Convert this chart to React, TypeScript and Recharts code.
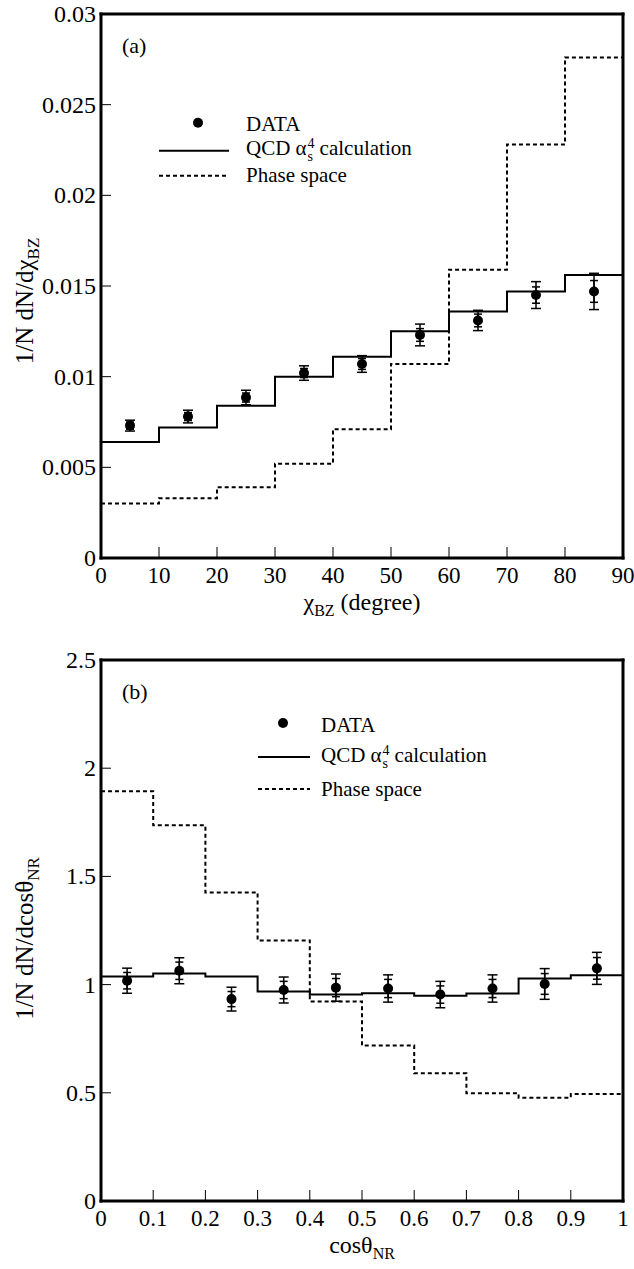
import {
  ComposedChart,
  ErrorBar,
  Legend,
  Line,
  ReferenceLine,
  Scatter,
  XAxis,
  YAxis,
} from "recharts";

const FONT = '"Liberation Serif", "Times New Roman", serif';
const serif = { fontFamily: FONT };

// (a) chi_BZ distribution
const chiEdges = [0, 10, 20, 30, 40, 50, 60, 70, 80, 90];
const chiQcd = [0.0064, 0.0072, 0.0084, 0.01, 0.0111, 0.0125, 0.0136, 0.0147, 0.0156];
const chiPhase = [0.003, 0.0033, 0.0039, 0.0052, 0.0071, 0.0107, 0.0159, 0.0228, 0.0276];
const chiCenters = [5, 15, 25, 35, 45, 55, 65, 75, 85];
const chiData = [0.0073, 0.0078, 0.00885, 0.0102, 0.0107, 0.0123, 0.0131, 0.0145, 0.0147];
const chiErrTot = [0.0003, 0.00035, 0.0004, 0.0004, 0.00046, 0.0006, 0.00056, 0.00074, 0.001];
const chiErrStat = [0.0002, 0.00022, 0.00025, 0.00025, 0.0003, 0.00035, 0.00035, 0.00045, 0.0006];
const chiTicksX = [0, 10, 20, 30, 40, 50, 60, 70, 80, 90];
const chiTicksY = [0, 0.005, 0.01, 0.015, 0.02, 0.025, 0.03];

// (b) cos theta_NR distribution
const cosEdges = [0, 0.1, 0.2, 0.3, 0.4, 0.5, 0.6, 0.7, 0.8, 0.9, 1];
const cosQcd = [1.037, 1.051, 1.037, 0.968, 0.954, 0.96, 0.949, 0.959, 1.028, 1.043];
const cosPhase = [1.894, 1.736, 1.426, 1.204, 0.922, 0.719, 0.59, 0.498, 0.477, 0.494];
const cosCenters = [0.05, 0.15, 0.25, 0.35, 0.45, 0.55, 0.65, 0.75, 0.85, 0.95];
const cosData = [1.018, 1.064, 0.933, 0.975, 0.986, 0.982, 0.954, 0.982, 1.003, 1.075];
const cosErrTot = [0.058, 0.06, 0.055, 0.06, 0.063, 0.063, 0.061, 0.063, 0.071, 0.074];
const cosErrStat = [0.038, 0.04, 0.035, 0.04, 0.042, 0.042, 0.04, 0.042, 0.048, 0.05];
const cosTicksX = [0, 0.1, 0.2, 0.3, 0.4, 0.5, 0.6, 0.7, 0.8, 0.9, 1];
const cosTicksY = [0, 0.5, 1, 1.5, 2, 2.5];

function stepRows(edges: number[], qcd: number[], phase: number[]) {
  return edges.map((x, i) => {
    const k = Math.min(i, qcd.length - 1);
    return { x, qcd: qcd[k], ps: phase[k] };
  });
}

function pointRows(xs: number[], ys: number[], tot: number[], stat: number[]) {
  return xs.map((x, i) => ({ x, y: ys[i], tot: tot[i], stat: stat[i] }));
}

const axisLineStyle = { stroke: "#000", strokeWidth: 3, strokeLinecap: "square" as const };

// eslint-disable-next-line @typescript-eslint/no-explicit-any
function XTick({ x, y, payload }: any) {
  return (
    <g>
      <line x1={x} y1={y} x2={x} y2={y - 11} stroke="#000" strokeWidth={1} />
      <text x={x} y={y + 25} textAnchor="middle" style={serif} fontSize={23} fill="#000">
        {String(payload.value)}
      </text>
    </g>
  );
}

// eslint-disable-next-line @typescript-eslint/no-explicit-any
function YTick({ x, y, payload }: any) {
  return (
    <g>
      <line x1={x} y1={y} x2={x + 10} y2={y} stroke="#000" strokeWidth={1} />
      <text x={x - 5} y={y} dy={8} textAnchor="end" style={serif} fontSize={24} fill="#000">
        {String(payload.value)}
      </text>
    </g>
  );
}

// eslint-disable-next-line @typescript-eslint/no-explicit-any
function DataDot(props: any) {
  if (props.cx == null || props.cy == null) return null;
  return <circle cx={props.cx} cy={props.cy} r={5} fill="#000" />;
}

function LegendRow({
  height,
  iconW,
  gap,
  icon,
  children,
}: {
  height: number;
  iconW: number;
  gap: number;
  icon: React.ReactNode;
  children: React.ReactNode;
}) {
  return (
    <div style={{ display: "flex", alignItems: "center", height }}>
      <svg width={iconW} height={height} style={{ display: "block" }}>
        {icon}
      </svg>
      <span style={{ marginLeft: gap, lineHeight: 1, whiteSpace: "nowrap" }}>{children}</span>
    </div>
  );
}

function PanelLegend({ rowH, iconW, gap, dotX }: { rowH: number; iconW: number; gap: number; dotX: number }) {
  const mid = rowH / 2;
  return (
    <div style={{ fontFamily: FONT, fontSize: 21, color: "#000" }}>
      <LegendRow height={rowH} iconW={iconW} gap={gap} icon={<circle cx={dotX} cy={mid - 2} r={5} fill="#000" />}>
        DATA
      </LegendRow>
      <LegendRow
        height={rowH}
        iconW={iconW}
        gap={gap}
        icon={<line x1={0} y1={mid} x2={iconW} y2={mid} stroke="#000" strokeWidth={2} />}
      >
        QCD α
        <span
          style={{
            display: "inline-flex",
            flexDirection: "column",
            fontSize: 14,
            lineHeight: "13px",
            verticalAlign: "middle",
            margin: "0 5px 0 1px",
          }}
        >
          <span>4</span>
          <span>s</span>
        </span>
        calculation
      </LegendRow>
      <LegendRow
        height={rowH}
        iconW={iconW}
        gap={gap}
        icon={
          <line x1={0} y1={mid} x2={iconW} y2={mid} stroke="#000" strokeWidth={2} strokeDasharray="4 3" />
        }
      >
        Phase space
      </LegendRow>
    </div>
  );
}

type PanelProps = {
  height: number;
  top: number;
  xAxisH: number;
  xDomain: [number, number];
  yDomain: [number, number];
  xTicks: number[];
  yTicks: number[];
  steps: ReturnType<typeof stepRows>;
  points: ReturnType<typeof pointRows>;
  tag: string;
  yTitle: { main: string; sub: string; shift: number };
  xTitle: { main: string; sub: string; rest: string };
  legend: { left: number; top: number; rowH: number; iconW: number; gap: number; dotX: number };
};

function Panel(p: PanelProps) {
  return (
    <ComposedChart
      width={634}
      height={p.height}
      margin={{ top: p.top, right: 11, bottom: 0, left: 0 }}
      style={{ fontFamily: FONT }}
    >
      <XAxis
        type="number"
        dataKey="x"
        domain={p.xDomain}
        ticks={p.xTicks}
        interval={0}
        height={p.xAxisH}
        tickSize={0}
        tickMargin={0}
        tickLine={false}
        axisLine={axisLineStyle}
        tick={<XTick />}
        allowDataOverflow
        label={{
          // eslint-disable-next-line @typescript-eslint/no-explicit-any
          content: (lp: any) => {
            const vb = lp.viewBox;
            return (
              <text
                x={vb.x + vb.width / 2}
                y={vb.y + 52}
                textAnchor="middle"
                style={serif}
                fontSize={24}
                fill="#000"
              >
                {p.xTitle.main}
                <tspan dy={6} fontSize={16}>
                  {p.xTitle.sub}
                </tspan>
                <tspan dy={-6}>{p.xTitle.rest}</tspan>
              </text>
            );
          },
        }}
      />
      <YAxis
        type="number"
        domain={p.yDomain}
        ticks={p.yTicks}
        interval={0}
        width={101}
        tickSize={0}
        tickMargin={0}
        tickLine={false}
        axisLine={axisLineStyle}
        tick={<YTick />}
        allowDataOverflow
        label={{
          // eslint-disable-next-line @typescript-eslint/no-explicit-any
          content: (lp: any) => {
            const vb = lp.viewBox;
            const cx = 33;
            const cy = vb.y + vb.height / 2 + p.yTitle.shift;
            return (
              <text
                x={cx}
                y={cy}
                transform={`rotate(-90, ${cx}, ${cy})`}
                textAnchor="middle"
                style={serif}
                fontSize={25}
                fill="#000"
              >
                {p.yTitle.main}
                <tspan dy={6} fontSize={17}>
                  {p.yTitle.sub}
                </tspan>
              </text>
            );
          },
        }}
      />
      <ReferenceLine
        y={p.yDomain[1]}
        stroke="#000"
        strokeWidth={3}
        strokeLinecap="square"
        label={{
          // eslint-disable-next-line @typescript-eslint/no-explicit-any
          content: (lp: any) => (
            <text x={lp.viewBox.x + 21} y={lp.viewBox.y + 39} style={serif} fontSize={22} fill="#000">
              {p.tag}
            </text>
          ),
        }}
      />
      <ReferenceLine x={p.xDomain[1]} stroke="#000" strokeWidth={3} strokeLinecap="square" />
      <Line
        data={p.steps}
        dataKey="ps"
        type="stepAfter"
        stroke="#000"
        strokeWidth={2}
        strokeDasharray="4 3"
        dot={false}
        activeDot={false}
        isAnimationActive={false}
      />
      <Line
        data={p.steps}
        dataKey="qcd"
        type="stepAfter"
        stroke="#000"
        strokeWidth={2}
        dot={false}
        activeDot={false}
        isAnimationActive={false}
      />
      <Scatter data={p.points} dataKey="y" shape={DataDot} isAnimationActive={false}>
        <ErrorBar dataKey="tot" direction="y" width={5} stroke="#000" strokeWidth={1.5} />
        <ErrorBar dataKey="stat" direction="y" width={4} stroke="#000" strokeWidth={1.5} />
      </Scatter>
      <Legend
        layout="vertical"
        align="center"
        verticalAlign="middle"
        wrapperStyle={{ left: p.legend.left, top: p.legend.top, width: "auto", height: "auto" }}
        content={() => (
          <PanelLegend rowH={p.legend.rowH} iconW={p.legend.iconW} gap={p.legend.gap} dotX={p.legend.dotX} />
        )}
      />
    </ComposedChart>
  );
}

export default function App() {
  return (
    <div style={{ position: "absolute", left: 0, top: 0, width: 634, height: 1269, background: "#fff" }}>
      <Panel
        height={640}
        top={14}
        xAxisH={82}
        xDomain={[0, 90]}
        yDomain={[0, 0.03]}
        xTicks={chiTicksX}
        yTicks={chiTicksY}
        steps={stepRows(chiEdges, chiQcd, chiPhase)}
        points={pointRows(chiCenters, chiData, chiErrTot, chiErrStat)}
        tag="(a)"
        yTitle={{ main: "1/N dN/dχ", sub: "BZ", shift: 15 }}
        xTitle={{ main: "χ", sub: "BZ", rest: " (degree)" }}
        legend={{ left: 159, top: 112, rowH: 25.5, iconW: 70, gap: 17, dotX: 39 }}
      />
      <Panel
        height={629}
        top={20}
        xAxisH={68}
        xDomain={[0, 1]}
        yDomain={[0, 2.5]}
        xTicks={cosTicksX}
        yTicks={cosTicksY}
        steps={stepRows(cosEdges, cosQcd, cosPhase)}
        points={pointRows(cosCenters, cosData, cosErrTot, cosErrStat)}
        tag="(b)"
        yTitle={{ main: "1/N dN/dcosθ", sub: "NR", shift: 8 }}
        xTitle={{ main: "cosθ", sub: "NR", rest: "" }}
        legend={{ left: 258, top: 69, rowH: 32, iconW: 52, gap: 11, dotX: 25 }}
      />
    </div>
  );
}
